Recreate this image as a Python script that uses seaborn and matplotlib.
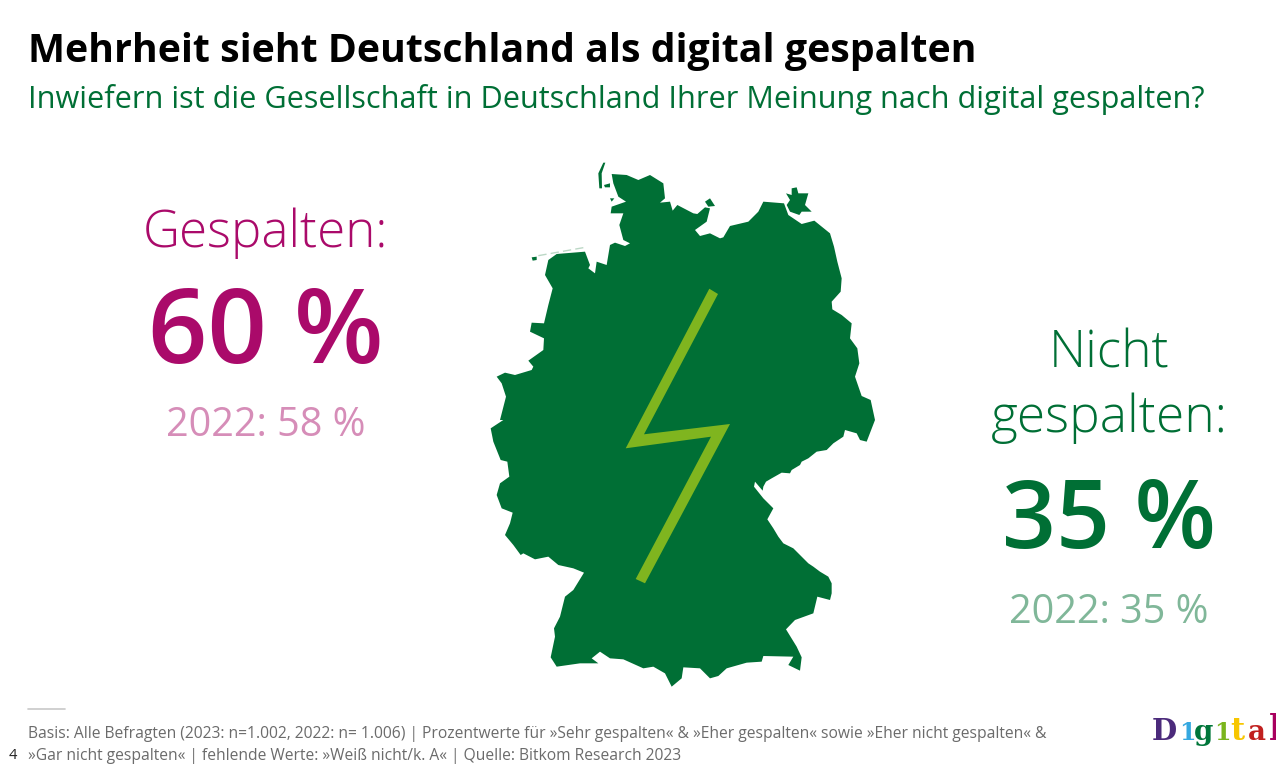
import matplotlib
matplotlib.use("Agg")
import matplotlib.pyplot as plt
import seaborn as sns

TITLE = "Mehrheit sieht Deutschland als digital gespalten"
SUBTITLE = "Inwiefern ist die Gesellschaft in Deutschland Ihrer Meinung nach digital gespalten?"
LEFT_LABEL = "Gespalten:"
LEFT_VALUE = "60 %"
LEFT_PREV = "2022: 58 %"
RIGHT_LABEL_1 = "Nicht"
RIGHT_LABEL_2 = "gespalten:"
RIGHT_VALUE = "35 %"
RIGHT_PREV = "2022: 35 %"
FOOT1 = "Basis: Alle Befragten (2023: n=1.002, 2022: n= 1.006) | Prozentwerte für »Sehr gespalten« & »Eher gespalten« sowie »Eher nicht gespalten« &"
FOOT2 = "»Gar nicht gespalten« | fehlende Werte: »Weiß nicht/k. A« | Quelle: Bitkom Research 2023"
LOGO = list("D1g1tal")
LOGO_COLORS = ["#4b2a7b", "#35a8e0", "#00763a", "#7ab51d", "#f7c600", "#c1201f", "#a8005f"]
LOGO_X = [1164.5, 1187.5, 1204, 1222.5, 1237, 1256.5, 1275]
LOGO_SIZE = [21, 17, 20, 17, 22, 20, 25]

# outline of the country (zoom-crop units of the upper and lower crop)
NORTH = [(395,72),(440,75),(475,90),(510,75),(550,100),(555,145),(540,158),(570,155),(578,182),(592,165),(640,190),(652,192),(675,172),(690,175),(680,215),(645,240),(660,258),(690,250),(720,265),(730,262),(750,228),(805,215),(835,185),(850,155),(912,160),(925,195),(965,222),(1003,212),(1050,250),(1062,290),(1072,335),(1085,385),(1082,425),(1055,455),(1057,478),(1085,495),(1115,520),(1110,565),(1132,595),(1138,640),(1125,680),(1145,738),(1172,750),(1185,810)]
SOUTH = [(1160,65),(1140,60),(1130,40),(1095,30),(1090,50),(1060,70),(1040,90),(1010,95),(985,115),(965,125),(960,135),(935,150),(930,160),(905,158),(875,175),(858,185),(850,200),(848,212),(825,185),(822,200),(850,235),(880,265),(862,298),(880,325),(895,350),(910,370),(940,385),(960,405),(985,430),(1000,440),(1020,455),(1045,470),(1055,490),(1055,520),(1050,540),(1012,530),(1000,580),(945,600),(918,628),(950,680),(965,712),(960,752),(925,735),(940,710),(850,708),(845,725),(800,728),(740,745),(715,768),(690,775),(660,745),(610,742),(605,775),(575,800),(555,760),(520,740),(490,745),(430,718),(390,715),(360,695),(335,715),(355,730),(300,730),(230,740),(212,712),(225,650),(222,625),(240,590),(255,530),(280,510),(312,458),(280,445),(235,435),(205,410),(165,418),(130,400),(122,405),(100,375),(75,345),(90,310),(98,278),(65,265),(50,225),(60,190),(88,170),(82,125),(62,120),(40,65),(32,25),(70,0)]
WEST = [(60,810),(78,740),(65,700),(50,680),(75,668),(105,675),(155,660),(160,650),(145,632),(190,600),(192,565),(150,545),(155,518),(192,520),(205,465),(218,415),(195,375),(205,330),(230,312),(315,305),(330,345),(325,355),(345,370),(350,335),(380,345),(390,285),(405,278),(435,288),(450,280),(430,270),(418,225),(430,190),(392,190),(395,170),(438,155),(415,140),(400,100)]
RUEGEN = [(935,115),(950,112),(955,130),(985,130),(975,165),(995,185),(965,185),(958,195),(930,185),(920,165),(930,150),(918,130),(935,135)]
FEHMARN = [(675,155),(690,145),(705,168),(685,170)]
FOEHR = [(372,105),(390,100),(390,112),(375,112)]
AMRUM = [(390,145),(403,145),(395,155)]
SYLT = [(370,38),(376,38),(365,70),(366,115),(358,115),(355,70)]
FRISIAN = [(155,322),(170,320),(170,330),(158,332)]
BOLT = [(709.3,288.7),(625.7,448.3),(711,436.7),(635.7,579),(645,583.3),(730,424),(644,434.3),(718,294)]


def upper(p):
    return [(480 + x / 3, 150 + y / 3) for x, y in p]


def lower(p):
    return [(480 + x / 3, 420 + y / 3) for x, y in p]


sns.set_theme(style="white", rc={"axes.facecolor": "white", "figure.facecolor": "white"})
FONT = "Open Sans"
plt.rcParams["font.family"] = [FONT, "DejaVu Sans"]

GREEN = "#006f35"
MAGENTA = "#aa0a6a"
fig = plt.figure(figsize=(12.76, 7.67), dpi=100)
ax = fig.add_axes([0, 0, 1, 1])
ax.set_xlim(0, 1276)
ax.set_ylim(767, 0)
ax.axis("off")

outline = upper(NORTH) + lower(SOUTH) + upper(WEST)
ax.fill(*zip(*outline), color=GREEN, lw=0)
for isl in (RUEGEN, FEHMARN, FOEHR, AMRUM, SYLT, FRISIAN):
    ax.fill(*zip(*upper(isl)), color=GREEN, lw=0)
ax.plot([480 + 175 / 3, 480 + 310 / 3], [150 + 317 / 3, 150 + 293 / 3], color="#bcd8c6", lw=1, ls=(0, (6, 3)))
ax.fill(*zip(*BOLT), color="#7fb51f", lw=0)


def put(x, y, s, size, color, ha="center", weight="normal"):
    ax.text(x, y, s, fontsize=size, color=color, ha=ha, va="baseline", fontweight=weight)


put(28, 62, TITLE, 28.3, "black", "left", "bold")
put(28, 108, SUBTITLE, 22.05, GREEN, "left")

put(266, 247, LEFT_LABEL, 36.8, MAGENTA, weight="light")
put(266, 363, LEFT_VALUE, 75, MAGENTA, weight="semibold")
put(266, 436, LEFT_PREV, 28.5, "#d68db8", weight="normal")

put(1109, 368, RIGHT_LABEL_1, 37, GREEN, weight="light")
put(1109, 432, RIGHT_LABEL_2, 37, GREEN, weight="light")
put(1109, 548, RIGHT_VALUE, 68, GREEN, weight="semibold")
put(1109, 623, RIGHT_PREV, 28.5, "#80b799", weight="normal")

ax.plot([28, 65], [709, 709], color="#c8c8c8", lw=1.2)
put(28, 738, FOOT1, 11.28, "#6b6b6b", "left")
put(28, 760, FOOT2, 11.28, "#6b6b6b", "left")
put(13, 759, "4", 10.5, "#222222")

for ch, c, x, s in zip(LOGO, LOGO_COLORS, LOGO_X, LOGO_SIZE):
    ax.text(x, 740, ch, fontsize=s, color=c, family="DejaVu Serif", fontweight="bold", ha="center", va="baseline")

fig.savefig("out.png", dpi=100)
